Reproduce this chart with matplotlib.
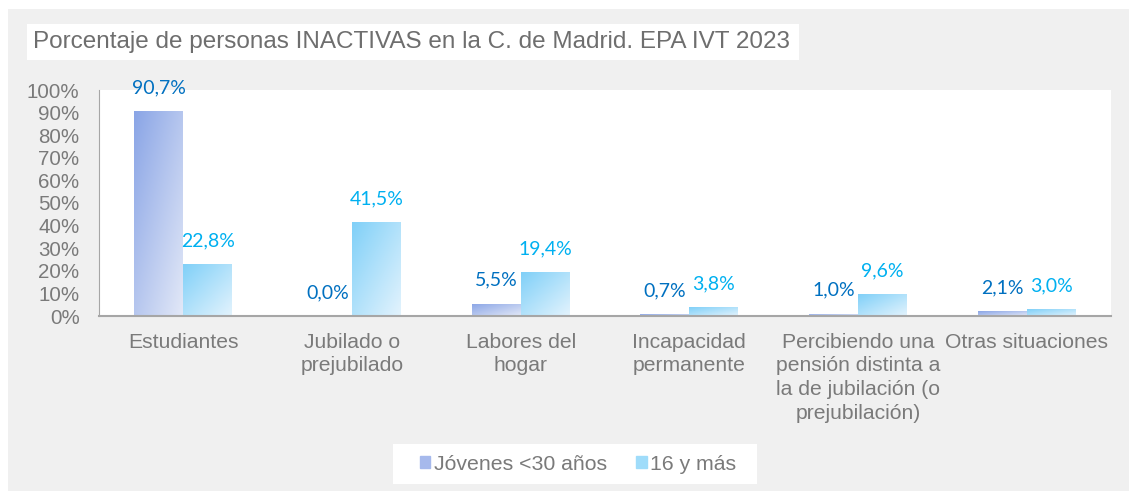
import matplotlib

matplotlib.use("Agg")
import matplotlib.pyplot as plt  # noqa: E402
import numpy as np  # noqa: E402
from matplotlib.patches import Rectangle  # noqa: E402

# ---- data ------------------------------------------------------------
categories = [
    "Estudiantes",
    "Jubilado o\nprejubilado",
    "Labores del\nhogar",
    "Incapacidad\npermanente",
    "Percibiendo una\npensión distinta a\nla de jubilación (o\nprejubilación)",
    "Otras situaciones",
]
jovenes = [90.7, 0.0, 5.5, 0.7, 1.0, 2.1]
mayores = [22.8, 41.5, 19.4, 3.8, 9.6, 3.0]
series_names = ["Jóvenes <30 años", "16 y más"]
yticks = list(range(0, 101, 10))
title = "Porcentaje de personas INACTIVAS en la C. de Madrid. EPA IVT 2023"

# ---- styling ---------------------------------------------------------
GREY_TXT = "#7a7a7a"
PANEL = "#f0f0f0"
GRAD = [("#8aa5e6", "#e2e8f7"), ("#80d0f8", "#e3f3fd")]
LAB_COL = ["#0070c0", "#00b0f0"]
LEG_COL = ["#a6b9ec", "#9fdcfa"]
W = 0.29

plt.rcParams["font.family"] = ["Liberation Sans", "DejaVu Sans"]

fig = plt.figure(figsize=(11.29, 4.91), dpi=100)
W_PX, H_PX = 1129, 491


def _box(x0, y0, x1, y1, color):
    # pixel box (top-left origin) -> figure patch
    fig.patches.append(Rectangle((x0 / W_PX, 1 - y1 / H_PX), (x1 - x0) / W_PX, (y1 - y0) / H_PX,
                                 transform=fig.transFigure, color=color, lw=0, zorder=-10))


_box(8, 9, W_PX, H_PX, PANEL)
_box(27, 24, 799, 60, "white")
_box(393, 444, 757, 484, "white")

fig.text(33 / W_PX, 1 - 42 / H_PX, title, fontsize=17.5, color="#6e6e6e", va="center", ha="left")

ax = fig.add_axes((99 / W_PX, 1 - 316 / H_PX, 1012 / W_PX, 226 / H_PX))
ax.set_facecolor("white")


def _gradient_bar(x0, h, c_dark, c_light):
    bar = ax.bar(x0, h, width=W, align="edge", color="none", lw=0)[0]
    if h <= 0:
        return bar
    u = np.linspace(0, 1, 64)
    uu, vv = np.meshgrid(u, u)          # vv: 0 at top row
    t = (uu + vv) / 2
    a = np.array(matplotlib.colors.to_rgb(c_dark))
    b = np.array(matplotlib.colors.to_rgb(c_light))
    img = a[None, None, :] * (1 - t[..., None]) + b[None, None, :] * t[..., None]
    im = ax.imshow(img, extent=(x0, x0 + W, 0, h), aspect="auto", origin="upper",
                   interpolation="bilinear", zorder=2)
    im.set_clip_path(bar)
    return bar


x = np.arange(len(categories))
for k, vals in enumerate([jovenes, mayores]):
    for i, v in enumerate(vals):
        x0 = x[i] - W if k == 0 else x[i]
        _gradient_bar(x0, v, *GRAD[k])
        ax.annotate(f"{v:.1f}%".replace(".", ","), (x0 + W / 2, v), xytext=(0, 17),
                    textcoords="offset points", ha="center", va="center",
                    fontsize=14, color=LAB_COL[k], family=["Lato", "DejaVu Sans"],
                    annotation_clip=False)

ax.set_xlim(-0.5, len(categories) - 0.5)
ax.set_ylim(0, 100)
ax.set_yticks(yticks)
ax.set_yticklabels([f"{t}%" for t in yticks])
ax.set_xticks(x)
ax.set_xticklabels(categories, linespacing=1.32, fontsize=15.2)
ax.tick_params(axis="both", length=0, colors=GREY_TXT)
ax.tick_params(axis="y", pad=14, labelsize=14.8)
ax.tick_params(axis="x", pad=12)
for s in ("top", "right"):
    ax.spines[s].set_visible(False)
ax.spines["left"].set_color("#a6a6a6")
ax.spines["bottom"].set_color("#a6a6a6")
ax.spines["bottom"].set_linewidth(1.5)

handles = [Rectangle((0, 0), 1, 1, color=c) for c in LEG_COL]
fig.legend(handles, series_names, loc="center", bbox_to_anchor=(578 / W_PX, 1 - 464 / H_PX),
           ncol=2, frameon=False, fontsize=15.3, labelcolor=GREY_TXT, handlelength=0.5,
           handleheight=0.5, handletextpad=0.15, columnspacing=1.4)

fig.savefig("out.png", dpi=100)
